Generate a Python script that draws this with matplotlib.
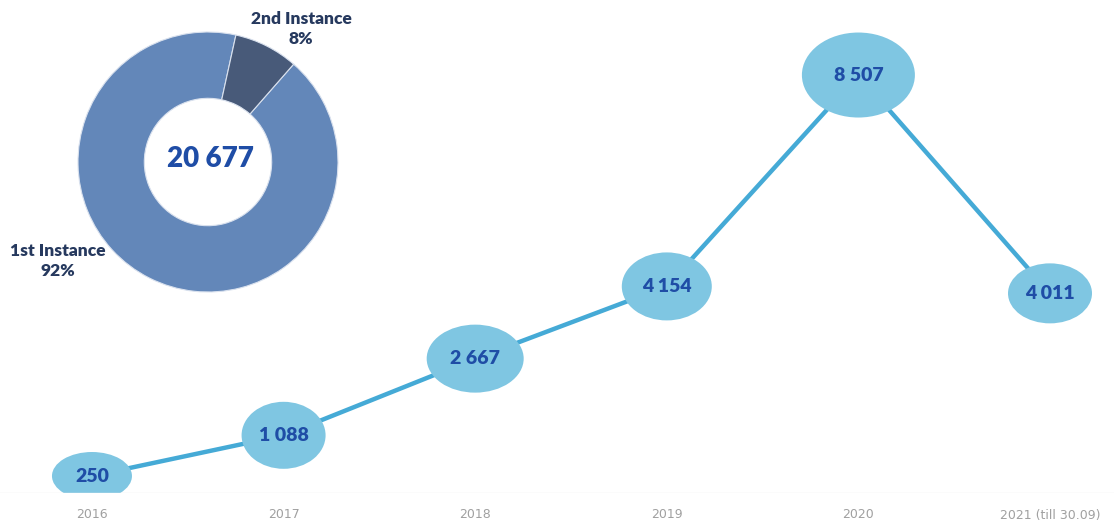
import matplotlib.pyplot as plt
from matplotlib.patches import Ellipse

years = ["2016", "2017", "2018", "2019", "2020", "2021 (till 30.09)"]
cases = [250, 1088, 2667, 4154, 8507, 4011]

instances = ["1st Instance", "2nd Instance"]
shares = [92, 8]
total = 20677

# bubble sizes in pixels (w, h)
bubbles = [(80, 48), (84, 67), (97, 68), (90, 68), (113, 85), (84, 60)]

W, H = 1114, 523
fig = plt.figure(figsize=(W / 100, H / 100), dpi=100)

# line chart over the whole width
base = 493
ax = fig.add_axes([0, (H - base) / H, 1, base / H])
xlo, xhi = -0.48, 5.334
ylo, yhi = -100, 10052
ax.set_xlim(xlo, xhi)
ax.set_ylim(ylo, yhi)
ax.axis("off")
ppx = W / (xhi - xlo)
ppy = base / (yhi - ylo)

x = list(range(len(years)))
ax.plot(x, cases, color="#45aad6", lw=3.2, zorder=1, solid_capstyle="round")
for i, v in enumerate(cases):
    w, h = bubbles[i]
    ax.add_patch(Ellipse((i, v), w / ppx, h / ppy, facecolor="#7fc6e2",
                         edgecolor="none", zorder=2))
    ax.text(i, v, f"{v:,}".replace(",", " "), ha="center", va="center",
            fontsize=14, fontweight="heavy", color="#1f4da6",
            family="Lato", zorder=3)

ax.axhline(ylo, color="#eeeeee", lw=1)
for i, y in enumerate(years):
    fig.text((i - xlo) * ppx / W, (H - 515) / H, y, ha="center", va="center",
             fontsize=9, color="#a0a0a0",
             family=["Liberation Sans Narrow", "DejaVu Sans"])

# donut
cx, cy, r = 208, 162, 130
pax = fig.add_axes([(cx - r) / W, (H - cy - r) / H, 2 * r / W, 2 * r / H])
pax.pie(shares, startangle=77.6, colors=["#6387b9", "#485a79"],
        wedgeprops=dict(width=0.51, edgecolor="#d9e1ee", linewidth=0.8))
pax.set_xlim(-1, 1)
pax.set_ylim(-1, 1)
pax.text(0.02, 0.02, f"{total:,}".replace(",", " "), ha="center", va="center",
         fontsize=20, fontweight="heavy", color="#1f4da6", family="Lato")

fig.text(301 / W, 1 - 29 / H, f"{instances[1]}\n{shares[1]}%", ha="center",
         va="center", fontsize=12.5, fontweight="heavy", color="#26395e",
         family="Lato", linespacing=1.25)
fig.text(58 / W, 1 - 261 / H, f"{instances[0]}\n{shares[0]}%", ha="center",
         va="center", fontsize=12.5, fontweight="heavy", color="#26395e",
         family="Lato", linespacing=1.25)

fig.savefig("out.png", dpi=100)
